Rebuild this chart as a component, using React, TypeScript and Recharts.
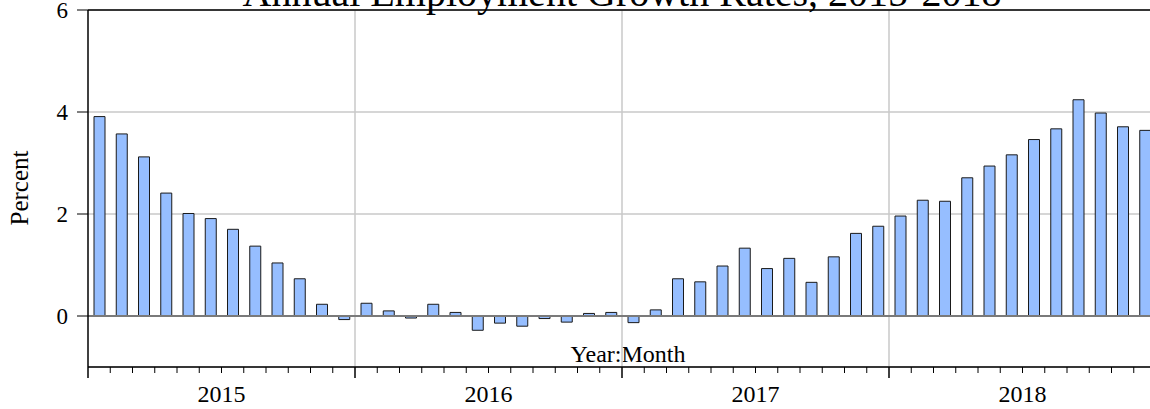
import { BarChart, Bar, XAxis, YAxis, CartesianGrid, ReferenceLine } from "recharts";

const years = ["2015", "2016", "2017", "2018"];

const months = [
  "2015M01", "2015M02", "2015M03", "2015M04", "2015M05", "2015M06",
  "2015M07", "2015M08", "2015M09", "2015M10", "2015M11", "2015M12",
  "2016M01", "2016M02", "2016M03", "2016M04", "2016M05", "2016M06",
  "2016M07", "2016M08", "2016M09", "2016M10", "2016M11", "2016M12",
  "2017M01", "2017M02", "2017M03", "2017M04", "2017M05", "2017M06",
  "2017M07", "2017M08", "2017M09", "2017M10", "2017M11", "2017M12",
  "2018M01", "2018M02", "2018M03", "2018M04", "2018M05", "2018M06",
  "2018M07", "2018M08", "2018M09", "2018M10", "2018M11", "2018M12",
];

const growth = [
  3.91, 3.57, 3.12, 2.41, 2.01, 1.91, 1.70, 1.37, 1.04, 0.73, 0.23, -0.07,
  0.25, 0.10, -0.04, 0.23, 0.07, -0.28, -0.14, -0.20, -0.05, -0.12, 0.05, 0.07,
  -0.13, 0.12, 0.73, 0.67, 0.98, 1.33, 0.93, 1.13, 0.66, 1.16, 1.62, 1.76,
  1.96, 2.27, 2.25, 2.71, 2.94, 3.16, 3.46, 3.67, 4.24, 3.98, 3.71, 3.64,
];

const yTicks = [0, 2, 4, 6];

const data = months.map((m, i) => ({ month: m, pos: i + 0.5, growth: growth[i] }));
const xTicks = months.map((_, i) => i).concat(months.length);
const yearBounds = years.slice(1).map((_, i) => (i + 1) * 12);

const FONT = "'Liberation Serif', 'Times New Roman', serif";

const XTick = (props: any) => {
  const { x, y, payload } = props;
  const v = payload.value;
  const big = v % 12 === 0;
  const label = v % 12 === 6 ? years[Math.floor(v / 12)] : null;
  return (
    <g>
      <line x1={x} x2={x} y1={y} y2={y + (big ? 11 : 6)} stroke="#000" strokeWidth={big ? 1.5 : 1} />
      {label && (
        <text x={x} y={y + 35} textAnchor="middle" fontFamily={FONT} fontSize={24} fill="#000">
          {label}
        </text>
      )}
    </g>
  );
};

const YTick = (props: any) => {
  const { x, y, payload } = props;
  return (
    <text x={x} y={y} dy="0.34em" textAnchor="end" fontFamily={FONT} fontSize={23} fill="#000">
      {payload.value}
    </text>
  );
};

export default function App() {
  return (
    <div style={{ width: 1150, height: 409, overflow: "hidden", position: "relative", background: "#fff" }}>
      <style>{`body{margin:0;overflow:hidden}`}</style>
      <div style={{ position: "absolute", left: 0, top: -30 }}>
        <BarChart
          width={1170}
          height={460}
          data={data}
          margin={{ top: 40, right: 14, bottom: 13, left: 8 }}
          style={{ fontFamily: FONT }}
        >
          <CartesianGrid vertical={false} stroke="#c8c8c8" strokeWidth={1.5} />
          {yearBounds.map((b) => (
            <ReferenceLine key={b} x={b} stroke="#c8c8c8" strokeWidth={1.5} />
          ))}
          <XAxis
            dataKey="pos"
            type="number"
            domain={[0, months.length]}
            ticks={xTicks}
            interval={0}
            tickSize={0}
            tickMargin={0}
            tick={<XTick />}
            height={50}
            axisLine={{ stroke: "#000", strokeWidth: 1.5 }}
            tickLine={false}
          />
          <YAxis
            domain={[-1, 6]}
            ticks={yTicks}
            width={80}
            tickSize={11}
            tickMargin={9}
            allowDataOverflow
            axisLine={{ stroke: "#000", strokeWidth: 1.5 }}
            tickLine={{ stroke: "#000" }}
            tick={<YTick />}
          />
          <Bar dataKey="growth" barSize={11} fill="#96beff" stroke="#1a1a1a" strokeWidth={1} isAnimationActive={false} />
          <ReferenceLine y={0} stroke="#7a7a7a" strokeWidth={2} />
          <ReferenceLine y={6} stroke="#000" strokeWidth={1.5} />
          <text x={622} y={36} textAnchor="middle" fontFamily={FONT} fontSize={40} fill="#000">
            Annual Employment Growth Rates, 2015-2018
          </text>
          <text transform="translate(28,218) rotate(-90)" textAnchor="middle" fontFamily={FONT} fontSize={25} fill="#000">
            Percent
          </text>
          <text x={628} y={392} textAnchor="middle" fontFamily={FONT} fontSize={24} fill="#000">
            Year:Month
          </text>
        </BarChart>
      </div>
    </div>
  );
}
